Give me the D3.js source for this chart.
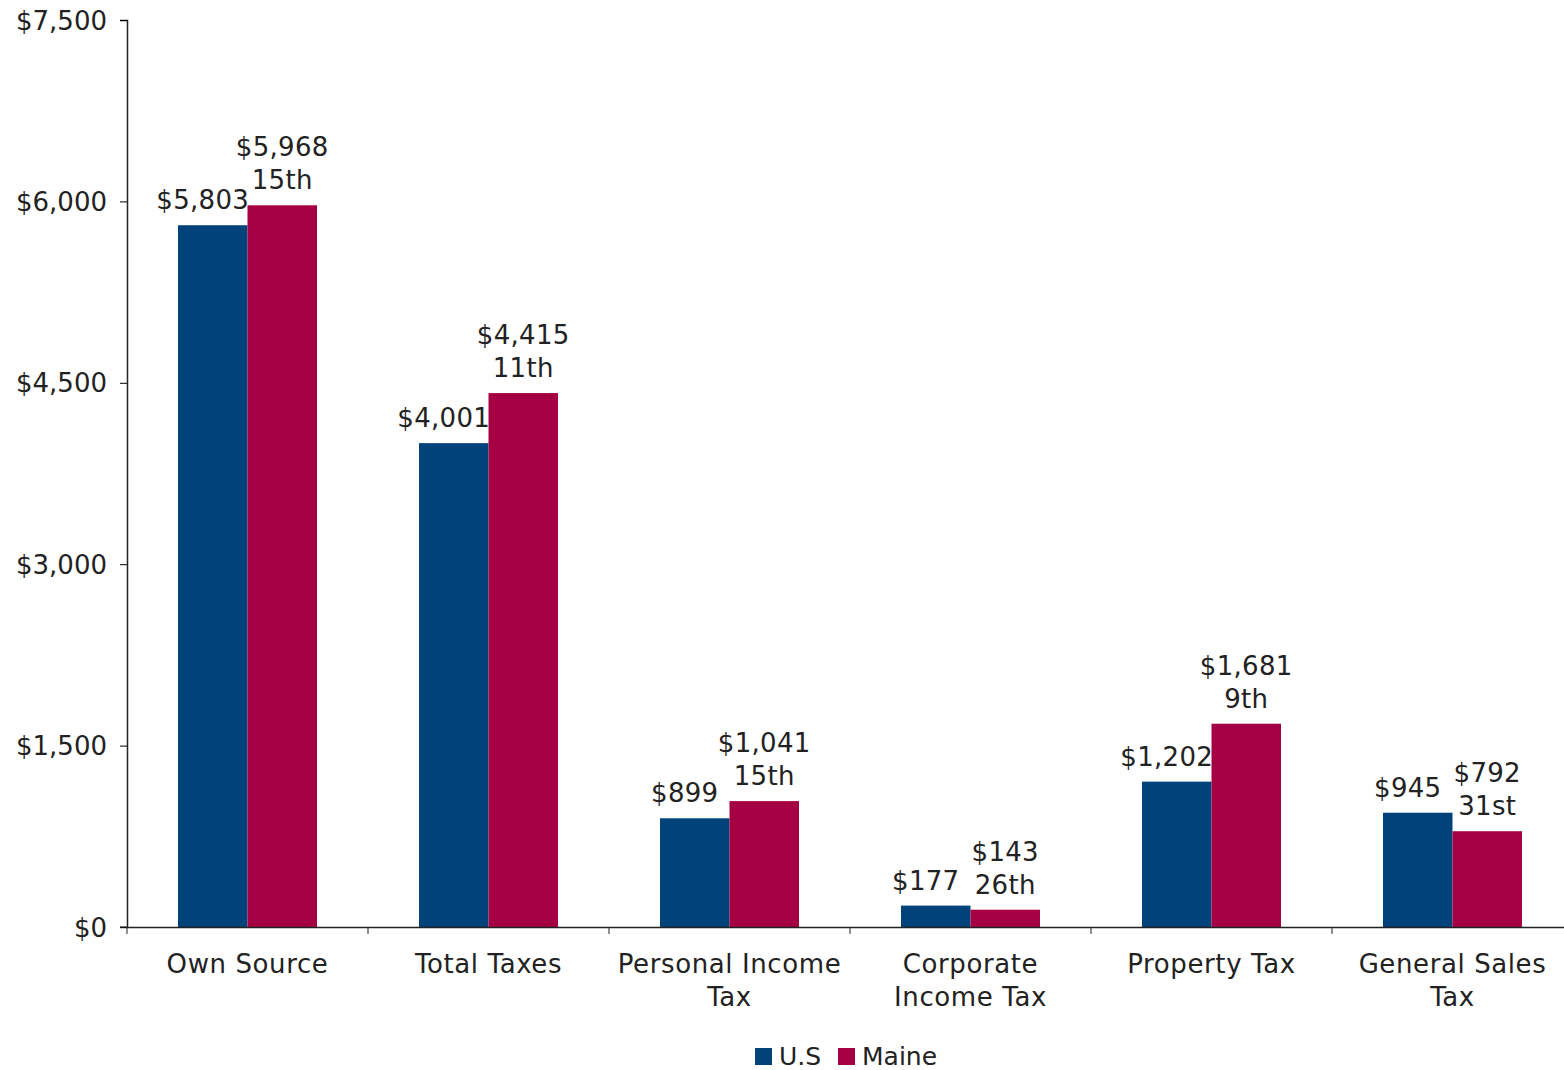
<!DOCTYPE html>
<html>
<head>
<meta charset="utf-8">
<script src="https://cdn.jsdelivr.net/npm/d3@7"></script>
<style>
  body { margin: 0; background: #fff; }
  text { font-family: "DejaVu Sans", Verdana, sans-serif; fill: #222; }
</style>
</head>
<body>
<svg id="chart" width="1564" height="1070"></svg>
<script>
var categories = [["Own Source"], ["Total Taxes"], ["Personal Income", "Tax"], ["Corporate", "Income Tax"], ["Property Tax"], ["General Sales", "Tax"]];
var usValues = [5803, 4001, 899, 177, 1202, 945];
var maineValues = [5968, 4415, 1041, 143, 1681, 792];
var maineRanks = ["15th", "11th", "15th", "26th", "9th", "31st"];
var yTicks = [0, 1500, 3000, 4500, 6000, 7500];
var seriesNames = ["U.S", "Maine"];
var colors = ["#00427a", "#a50044"];

var margin = {top: 20, right: 0, bottom: 143, left: 127},
	width = 1446,
	height = 1070 - margin.top - margin.bottom,
	svg = d3.select("#chart")
		.append("g")
		.attr("transform", "translate(" + margin.left + "," + margin.top + ")"),
	x = d3.scaleBand().domain(d3.range(categories.length)).range([0, width]),
	y = d3.scaleLinear().domain([0, 7500]).range([height, 0]),
	fmt = function(v) { return "$" + d3.format(",")(v); },
	fs = 26;

var barW = 69.5;
var inner = d3.scaleBand().domain([0, 1]).range([x.bandwidth() / 2 - barW, x.bandwidth() / 2 + barW]);

var groups = svg.selectAll(".cat")
	.data(categories)
	.enter().append("g")
	.attr("class", "cat")
	.attr("transform", function(d, i) { return "translate(" + x(i) + ",0)"; });

// bars
groups.append("rect")
	.attr("fill", colors[0])
	.attr("x", inner(0))
	.attr("width", inner.bandwidth())
	.attr("y", function(d, i) { return y(usValues[i]); })
	.attr("height", function(d, i) { return height - y(usValues[i]); });

groups.append("rect")
	.attr("fill", colors[1])
	.attr("x", inner(1))
	.attr("width", inner.bandwidth())
	.attr("y", function(d, i) { return y(maineValues[i]); })
	.attr("height", function(d, i) { return height - y(maineValues[i]); });

// labels
groups.append("text")
	.attr("text-anchor", "middle")
	.attr("font-size", fs)
	.attr("letter-spacing", 0.3)
	.attr("x", inner(0) + inner.bandwidth() / 2 - 10)
	.attr("y", function(d, i) { return y(usValues[i]) - 16; })
	.text(function(d, i) { return fmt(usValues[i]); });

groups.append("text")
	.attr("text-anchor", "middle")
	.attr("font-size", fs)
	.attr("letter-spacing", 0.3)
	.attr("x", inner(1) + inner.bandwidth() / 2)
	.attr("y", function(d, i) { return y(maineValues[i]) - 49; })
	.text(function(d, i) { return fmt(maineValues[i]); });

groups.append("text")
	.attr("text-anchor", "middle")
	.attr("font-size", fs)
	.attr("letter-spacing", 0.3)
	.attr("x", inner(1) + inner.bandwidth() / 2)
	.attr("y", function(d, i) { return y(maineValues[i]) - 16; })
	.text(function(d, i) { return maineRanks[i]; });

// y axis
var yAxis = svg.append("g")
	.call(d3.axisLeft(y).tickValues(yTicks).tickSize(7).tickPadding(13).tickFormat(fmt));
yAxis.selectAll("text").attr("font-size", fs).attr("dy", "0.35em");

// x axis
var xAxis = svg.append("g")
	.attr("transform", "translate(0," + height + ")")
	.call(d3.axisBottom(x).tickValues([]).tickSizeOuter(0));
xAxis.selectAll(".tick").remove();
xAxis.selectAll(".cut")
	.data(d3.range(categories.length))
	.enter().append("line")
	.attr("class", "cut")
	.attr("stroke", "#222")
	.attr("x1", function(i) { return x(i); })
	.attr("x2", function(i) { return x(i); })
	.attr("y1", 0).attr("y2", 7);
xAxis.append("line").attr("stroke", "#222").attr("x1", -7).attr("x2", 0);
svg.selectAll(".domain").attr("stroke", "#222").attr("stroke-width", 1.5);

// category labels
groups.append("text")
	.attr("text-anchor", "middle")
	.attr("font-size", fs)
	.attr("letter-spacing", 0.6)
	.selectAll("tspan")
	.data(function(d) { return d; })
	.enter().append("tspan")
	.attr("x", x.bandwidth() / 2)
	.attr("y", function(d, j) { return height + 46 + j * 33; })
	.text(function(d) { return d; });

// legend
var legend = d3.select("#chart").append("g").attr("transform", "translate(755,1056)");
var lx = [0, 83];
seriesNames.forEach(function(name, i) {
	legend.append("rect")
		.attr("x", lx[i]).attr("y", -8)
		.attr("width", 17).attr("height", 17)
		.attr("fill", colors[i]);
	legend.append("text")
		.attr("x", lx[i] + 24).attr("y", 9)
		.attr("font-size", 25)
		.text(name);
});
</script>
</body>
</html>
